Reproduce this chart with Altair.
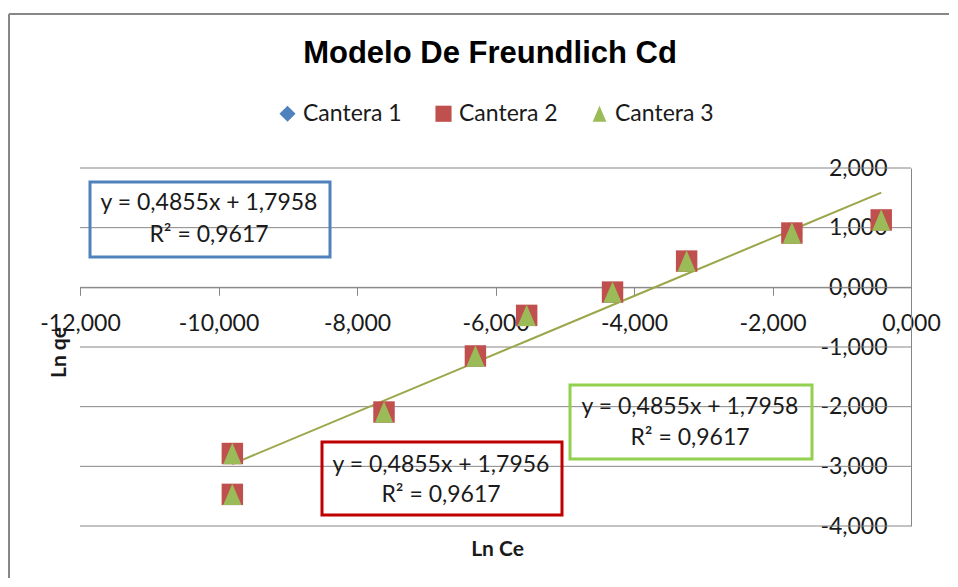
import altair as alt
import pandas as pd

# ---- data ----
series_names = ["Cantera 1", "Cantera 2", "Cantera 3"]
series_colors = ["#4F81BD", "#C0504D", "#9BBB59"]
ln_ce = [-0.43, -1.72, -3.24, -4.31, -5.55, -6.29, -7.61, -9.80, -9.80]
ln_qe = [1.13, 0.91, 0.44, -0.08, -0.47, -1.15, -2.09, -2.785, -3.47]
trend_slope = 0.4855
trend_intercept = 1.7958
x_ticks = [-12, -10, -8, -6, -4, -2, 0]
y_ticks = [-4, -3, -2, -1, 0, 1, 2]
chart_title = "Modelo De Freundlich Cd"
eq_blue = ["y = 0,4855x + 1,7958", "R² = 0,9617"]
eq_red = ["y = 0,4855x + 1,7956", "R² = 0,9617"]
eq_green = ["y = 0,4855x + 1,7958", "R² = 0,9617"]

rows = []
for s in series_names:
    for xv, yv in zip(ln_ce, ln_qe):
        rows.append({"serie": s, "ln_ce": xv, "ln_qe": yv})
df = pd.DataFrame(rows)
grid_df = pd.DataFrame({"ln_qe": y_ticks})

W, H = 831, 358
FONT = "Lato"
TXT = "#1a1a1a"
GRID = "#868686"

xscale = alt.Scale(domain=[-12, 0], nice=False, zero=False)
yscale = alt.Scale(domain=[-4, 2], nice=False, zero=False)
label_expr = "(datum.value < 0 ? '-' : '') + replace(format(abs(datum.value), '.3f'), '.', ',')"

y0_from_bottom = H * (0 - (-4)) / 6.0  # pixel offset of y=0 above bottom

x_axis = alt.Axis(
    values=x_ticks, labelExpr=label_expr, offset=-y0_from_bottom, grid=False,
    domainColor=GRID, domainWidth=1, tickColor=GRID, tickSize=8, ticks=True,
    labelFont=FONT, labelFontSize=23, labelColor=TXT, labelBaseline="middle",
    labelPadding=28, labelFlush=False, labelOverlap=False,
    title="Ln Ce", titleFont=FONT, titleFontSize=21, titleFontWeight="bold",
    titleColor=TXT, titleX=417, titleY=262,
    titleBaseline="middle", titleAlign="center",
)
y_axis = alt.Axis(
    orient="left", values=y_ticks, labelExpr=label_expr, offset=-W, grid=False,
    domainColor=GRID, domainWidth=1, ticks=False, tickSize=0,
    labelFont=FONT, labelFontSize=23, labelColor=TXT, labelAlign="right",
    labelBaseline="middle", labelPadding=24, labelFlush=False, labelOverlap=False,
    title="Ln qe", titleFont=FONT, titleFontSize=21, titleFontWeight="bold",
    titleColor=TXT, titleX=-852, titleY=184, titleAngle=-90,
    titleBaseline="middle", titleAlign="center",
)

X = lambda f: alt.X(f, scale=xscale, axis=x_axis)
Y = lambda f: alt.Y(f, scale=yscale, axis=y_axis)

tri = "M0,-1L0.85,1L-0.85,1Z"
points = alt.Chart(df).mark_point(filled=True, opacity=1, size=460, strokeWidth=0).encode(
    x=X("ln_ce:Q"),
    y=Y("ln_qe:Q"),
    color=alt.Color("serie:N", scale=alt.Scale(domain=series_names, range=series_colors),
                    legend=alt.Legend(title=None)),
    shape=alt.Shape("serie:N", scale=alt.Scale(domain=series_names, range=["diamond", "square", tri]),
                    legend=alt.Legend(title=None)),
    order=alt.Order("serie:N"),
)

grid = alt.Chart(grid_df).mark_rule(color=GRID, strokeWidth=1).encode(
    y=Y("ln_qe:Q"),
    x=alt.value(0), x2=alt.value(W),
)

trend = alt.Chart(df[df["serie"] == "Cantera 3"]).transform_calculate(
    fit=f"{trend_slope} * datum.ln_ce + {trend_intercept}"
).mark_line(color="#9CA64A", strokeWidth=2).encode(
    x=X("ln_ce:Q"),
    y=alt.Y("fit:Q", scale=yscale, axis=y_axis),
    order="ln_ce:Q",
)

one = alt.Data(values=[{"k": 0}])


def rule(**enc):
    return alt.Chart(one).mark_rule(color="#878787", strokeWidth=2).encode(**enc)


def text(s, cx, cy, **kw):
    return alt.Chart(one).mark_text(align="center", **kw).encode(
        x=alt.value(cx), y=alt.value(cy), text=alt.value(s)
    )


def box(x1, y1, x2, y2, color, lines, cx, cy1, cy2):
    r = alt.Chart(one).mark_rect(fillOpacity=0, stroke=color, strokeWidth=3).encode(
        x=alt.value(x1), x2=alt.value(x2), y=alt.value(y1), y2=alt.value(y2)
    )
    st = dict(font=FONT, fontSize=23, color=TXT, baseline="middle")
    return [r, text(lines[0], cx, cy1, **st), text(lines[1], cx, cy2, **st)]


layers = [
    rule(x=alt.value(-71), y=alt.value(-154), y2=alt.value(410)),
    rule(x=alt.value(-71), x2=alt.value(869), y=alt.value(-154)),
    text(chart_title, 410, -105, font="Liberation Sans", fontSize=31, fontWeight="bold",
         color="black", baseline="alphabetic"),
    grid, trend, points,
]
layers += box(10, 14, 250, 89, "#4F81BD", eq_blue, 129, 35, 67)
layers += box(242, 274, 482, 347, "#C00000", eq_red, 361, 297, 327)
layers += box(490, 217, 732, 291, "#92D050", eq_green, 610, 239, 270)

chart = alt.layer(*layers).properties(
    width=W, height=H,
    autosize=alt.AutoSizeParams(type="none"),
    padding={"left": 72, "top": 160, "right": 38, "bottom": 52},
    background="white",
).configure_view(stroke=None).configure_legend(
    orient="none", legendX=196, legendY=-66, direction="horizontal",
    labelFont=FONT, labelFontSize=23, labelColor=TXT, symbolSize=260,
    symbolStrokeWidth=0, columnPadding=30, labelOffset=4,
)

chart.save("out.html", embed_options={"renderer": "svg", "actions": False})
